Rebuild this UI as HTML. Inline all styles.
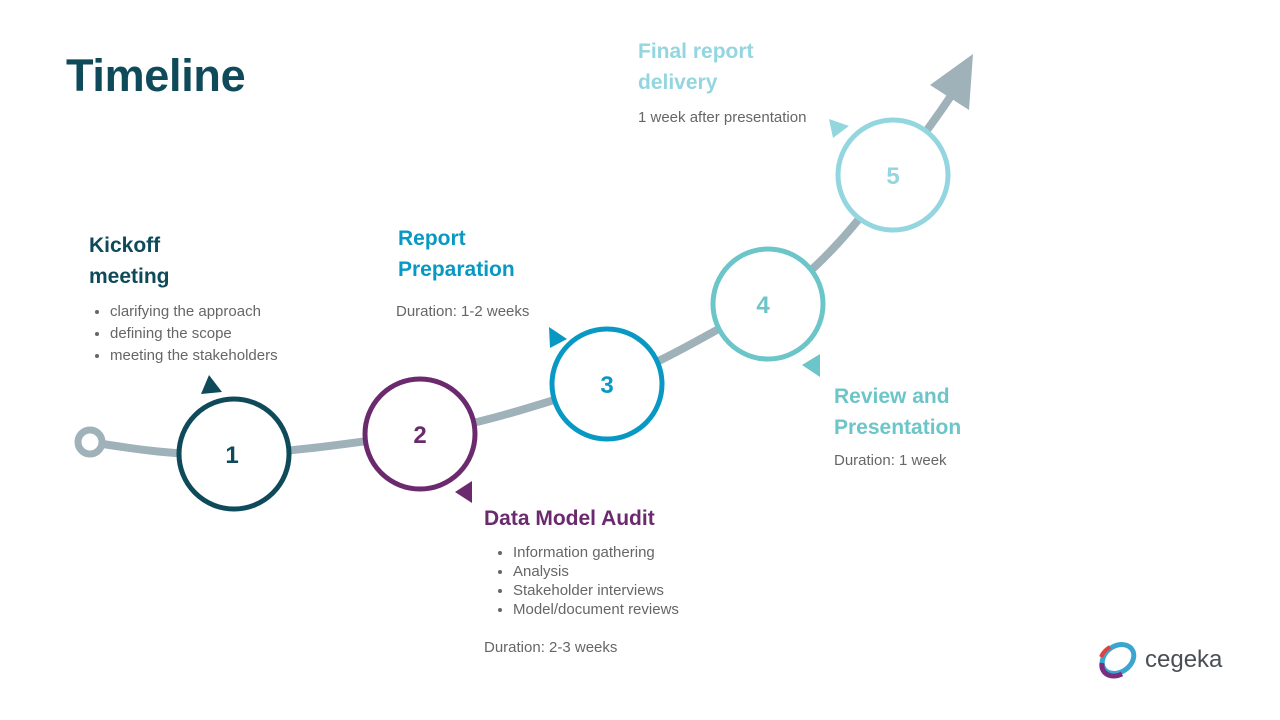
<!DOCTYPE html>
<html><head><meta charset="utf-8"><style>
body{margin:0;width:1280px;height:720px;background:#fff;position:relative;overflow:hidden;font-family:"Liberation Sans",sans-serif}
.t{position:absolute;white-space:nowrap}
h1{position:absolute;left:66px;top:50px;margin:0;font-size:45px;color:#0e4a5a;font-weight:bold;letter-spacing:-0.3px}
.h{font-size:21px;font-weight:bold;line-height:31px}
.s{font-size:15px;color:#666;line-height:22px}
ul{margin:0;padding-left:20px}
li{font-size:15px;color:#666;line-height:22px}
ul.b li{line-height:19px}
</style></head><body>
<h1>Timeline</h1>
<svg width="1280" height="720" style="position:absolute;left:0;top:0">
<path d="M90 442 C140 450 180 456 234 454 C300 452 370 440 420 434 C500 420 550 400 607 384 C680 355 720 325 768 304 C820 270 860 220 893 175 C920 140 935 120 955 90" fill="none" stroke="#9fb1b9" stroke-width="8"/>
<circle cx="90" cy="442" r="12" fill="#fff" stroke="#9fb1b9" stroke-width="7"/>
<polygon points="973,54 930,85 969,110" fill="#9fb1b9"/>
<g stroke-width="5" fill="#fff">
<circle cx="234" cy="454" r="55" stroke="#0e4a5a"/>
<circle cx="420" cy="434" r="55" stroke="#6b2a6e"/>
<circle cx="607" cy="384" r="55" stroke="#0799c4"/>
<circle cx="768" cy="304" r="55" stroke="#6cc5c8"/>
<circle cx="893" cy="175" r="55" stroke="#93d6e0"/>
</g>
<g font-family="Liberation Sans" font-weight="bold" font-size="24" text-anchor="middle">
<text x="232" y="463" fill="#0e4a5a">1</text>
<text x="420" y="443" fill="#6b2a6e">2</text>
<text x="607" y="393" fill="#0799c4">3</text>
<text x="763" y="313" fill="#6cc5c8">4</text>
<text x="893" y="184" fill="#93d6e0">5</text>
</g>
<polygon points="209,375 222,392 201,394" fill="#0e4a5a"/>
<polygon points="455,492 472,481 472,503" fill="#6b2a6e"/>
<polygon points="549,327 567,339 550,348" fill="#0799c4"/>
<polygon points="802,365 820,354 820,377" fill="#6cc5c8"/>
<polygon points="829,119 849,126 833,138" fill="#93d6e0"/>
<g transform="translate(1118,659)">
<ellipse rx="17" ry="13" fill="none" stroke="#3aa6d0" stroke-width="5" transform="rotate(-35)"/>
<path d="M-16 4 A17 13 -35 0 0 4 15" stroke="#7a2e7e" stroke-width="5" fill="none"/>
<path d="M-17 -2 A17 13 -35 0 1 -8 -12" stroke="#e53e3e" stroke-width="4" fill="none"/>
</g>
<text x="1145" y="667" font-family="Liberation Sans" font-size="24" fill="#4a4f55">cegeka</text>
</svg>
<div class="t h" style="left:89px;top:230px;color:#0e4a5a">Kickoff<br>meeting</div>
<ul class="t" style="left:90px;top:301px"><li>clarifying the approach</li><li>defining the scope</li><li>meeting the stakeholders</li></ul>
<div class="t h" style="left:398px;top:223px;color:#0799c4">Report<br>Preparation</div>
<div class="t s" style="left:396px;top:301px">Duration: 1-2 weeks</div>
<div class="t h" style="left:484px;top:503px;color:#6b2a6e">Data Model Audit</div>
<ul class="t b" style="left:493px;top:543px"><li>Information gathering</li><li>Analysis</li><li>Stakeholder interviews</li><li>Model/document reviews</li></ul>
<div class="t s" style="left:484px;top:637px">Duration: 2-3 weeks</div>
<div class="t h" style="left:834px;top:381px;color:#6cc5c8">Review and<br>Presentation</div>
<div class="t s" style="left:834px;top:450px">Duration: 1 week</div>
<div class="t h" style="left:638px;top:36px;color:#93d6e0">Final report<br>delivery</div>
<div class="t s" style="left:638px;top:107px">1 week after presentation</div>
</body></html>
